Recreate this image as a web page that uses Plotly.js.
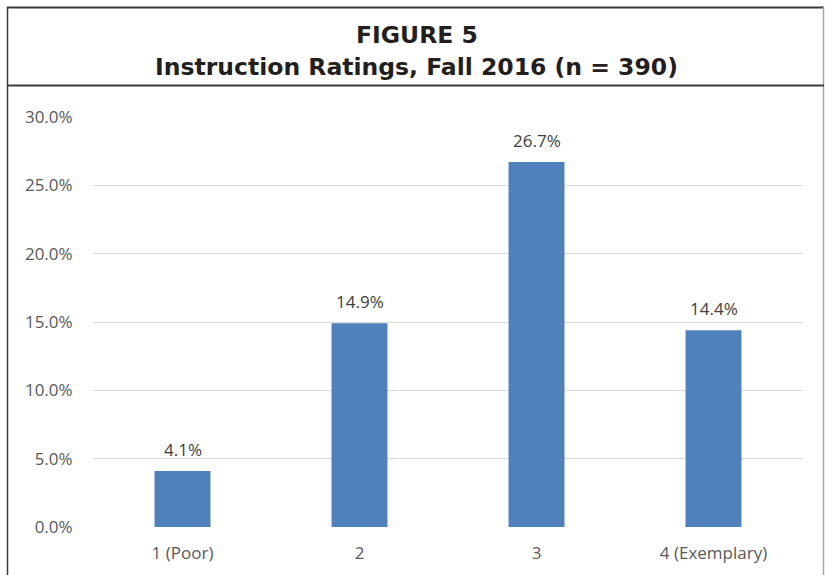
<!DOCTYPE html>
<html>
<head>
<meta charset="utf-8">
<script src="https://cdn.plot.ly/plotly-3.0.1.min.js"></script>
<style>html,body{margin:0;padding:0;background:#fff;}#chart{width:825px;height:575px;}</style>
</head>
<body>
<div id="chart"></div>
<script>
const categories = ["1 (Poor)", "2", "3", "4 (Exemplary)"];
const values = [4.1, 14.9, 26.7, 14.4];
const valueLabels = ["4.1%", "14.9%", "26.7%", "14.4%"];
const yTickVals = [0, 5, 10, 15, 20, 25, 30];
const yTickText = ["0.0%", "5.0%", "10.0%", "15.0%", "20.0%", "25.0%", "30.0%"];
const titleLine1 = "FIGURE 5";
const titleLine2 = "Instruction Ratings, Fall 2016 (n = 390)";

const L = 94, R = 23, T = 117, B = 48, W = 825, H = 575;
const pw = W - L - R, ph = H - T - B;
const px = x => (x - L) / pw;
const py = y => (H - B - y) / ph;

const trace = {
  type: "bar",
  x: categories,
  y: values,
  marker: {color: "#4F81BD", line: {color: "#4F81BD", width: 0}},
  hoverinfo: "none"
};

const labelFont = {family: "Open Sans, sans-serif", size: 17, color: "#404040"};
const annotations = categories.map((c, i) => ({
  x: i, y: values[i], xref: "x", yref: "y",
  text: valueLabels[i], showarrow: false,
  yanchor: "bottom", yshift: 8,
  font: labelFont
}));

const titleFont = {family: "DejaVu Sans, sans-serif", size: 23.5, color: "#231f20"};
annotations.push(
  {xref: "paper", yref: "paper", x: px(416.5), y: py(35), xanchor: "center", yanchor: "middle",
   text: "<b>" + titleLine1 + "</b>", showarrow: false, font: titleFont},
  {xref: "paper", yref: "paper", x: px(416.5), y: py(67), xanchor: "center", yanchor: "middle",
   text: "<b>" + titleLine2 + "</b>", showarrow: false, font: titleFont}
);

const dark = "#3a3a3a", light = "#a6a6a6";
const layout = {
  width: W, height: H,
  margin: {l: L, r: R, t: T, b: B},
  paper_bgcolor: "#ffffff",
  plot_bgcolor: "#ffffff",
  showlegend: false,
  bargap: 0.684,
  xaxis: {
    type: "category",
    showgrid: false, zeroline: false, showline: false,
    ticks: "outside", ticklen: 11, tickcolor: "rgba(0,0,0,0)",
    tickfont: {family: "Open Sans, sans-serif", size: 17, color: "#595959"}
  },
  yaxis: {
    range: [0, 30],
    tickvals: yTickVals, ticktext: yTickText,
    showgrid: true, gridcolor: "#d9d9d9", gridwidth: 1,
    zeroline: false, showline: false,
    ticks: "outside", ticklen: 17, tickcolor: "rgba(0,0,0,0)",
    tickfont: {family: "Open Sans, sans-serif", size: 17, color: "#595959"}
  },
  annotations: annotations,
  shapes: [
    {type: "line", xref: "paper", yref: "paper",
     x0: px(7), x1: px(824), y0: py(7.5), y1: py(7.5),
     line: {color: dark, width: 2}, layer: "above"},
    {type: "line", xref: "paper", yref: "paper",
     x0: px(7.5), x1: px(7.5), y0: py(7), y1: py(590),
     line: {color: dark, width: 1.5}, layer: "above"},
    {type: "line", xref: "paper", yref: "paper",
     x0: px(823.5), x1: px(823.5), y0: py(7), y1: py(590),
     line: {color: light, width: 1.5}, layer: "above"},
    {type: "line", xref: "paper", yref: "paper",
     x0: px(7), x1: px(824), y0: py(85.5), y1: py(85.5),
     line: {color: dark, width: 2}, layer: "above"}
  ]
};

Plotly.newPlot("chart", [trace], layout, {displayModeBar: false, staticPlot: true});
</script>
</body>
</html>
